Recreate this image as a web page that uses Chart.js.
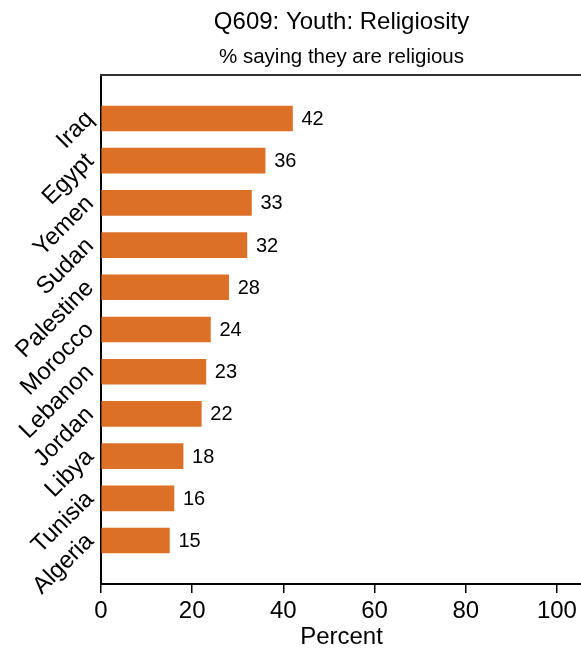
<!DOCTYPE html>
<html>
<head>
<meta charset="utf-8">
<script src="https://cdn.jsdelivr.net/npm/chart.js@4"></script>
<style>
  body { margin: 0; overflow: hidden; background: #fff; }
  #wrap { width: 581px; height: 651px; overflow: hidden; }
</style>
</head>
<body>
<div id="wrap">
  <!-- canvas is wider than the window so the right edge of the frame falls off, like the reference -->
  <canvas id="chart" width="682" height="651"></canvas>
</div>
<script>
// countries top to bottom
let countries = ['Iraq', 'Egypt', 'Yemen', 'Sudan', 'Palestine', 'Morocco',
                 'Lebanon', 'Jordan', 'Libya', 'Tunisia', 'Algeria'];
// % saying they are religious
let values = [42, 36, 33, 32, 28, 24, 23, 22, 18, 16, 15];
// x axis tick labels
let xTicks = [0, 20, 40, 60, 80, 100];

let barColor = '#DD7027';
let fontFamily = '"Liberation Sans", Arial, Helvetica, sans-serif';
Chart.defaults.font.family = fontFamily;
Chart.defaults.color = '#000';

// writes the value just right of each bar
let valueLabels = {
    id: 'valueLabels',
    afterDatasetsDraw: function(chart) {
        let ctx = chart.ctx;
        let meta = chart.getDatasetMeta(0);
        ctx.save();
        ctx.font = '20px ' + fontFamily;
        ctx.fillStyle = '#000';
        ctx.textAlign = 'left';
        ctx.textBaseline = 'middle';
        for (let i = 0; i < meta.data.length; i++) {
            let bar = meta.data[i];
            ctx.fillText(String(values[i]), bar.x + 9, bar.y + 1);
        }
        ctx.restore();
    }
};

// top side of the panel frame
let topFrame = {
    id: 'topFrame',
    afterDraw: function(chart) {
        let a = chart.chartArea;
        let ctx = chart.ctx;
        ctx.save();
        ctx.strokeStyle = '#333';
        ctx.lineWidth = 2;
        ctx.beginPath();
        ctx.moveTo(a.left - 1, a.top);
        ctx.lineTo(a.right + 1, a.top);
        ctx.stroke();
        ctx.restore();
    }
};

new Chart(document.getElementById('chart'), {
    type: 'bar',
    data: {
        datasets: [{
            data: values.map(function(v, i) { return { x: v, y: i }; }),
            backgroundColor: barColor,
            borderWidth: 0,
            barThickness: 25
        }]
    },
    options: {
        indexAxis: 'y',
        responsive: false,
        animation: false,
        layout: { padding: { left: 0, right: 100, top: 0, bottom: 0 } },
        plugins: {
            legend: { display: false },
            tooltip: { enabled: false },
            title: {
                display: true,
                fullSize: false,   // center over the panel, not the canvas
                text: 'Q609: Youth: Religiosity',
                font: { size: 24, weight: 'normal' },
                color: '#000',
                padding: { top: 8, bottom: 8 }
            },
            subtitle: {
                display: true,
                fullSize: false,
                text: '% saying they are religious',
                font: { size: 20.5, weight: 'normal' },
                color: '#000',
                padding: { top: 0, bottom: 5.6 }
            }
        },
        scales: {
            x: {
                type: 'linear',
                min: 0,
                max: 105.5,
                afterBuildTicks: function(scale) {
                    scale.ticks = xTicks.map(function(v) { return { value: v }; });
                },
                afterFit: function(scale) { scale.height = 67; },
                grid: { drawOnChartArea: false, color: '#000', lineWidth: 1.5, tickLength: 9 },
                border: { color: '#000', width: 2 },
                ticks: { font: { size: 24 }, color: '#000', padding: 4, maxRotation: 0 },
                title: {
                    display: true,
                    text: 'Percent',
                    font: { size: 24 },
                    color: '#000',
                    padding: { top: 0, bottom: -1 }
                }
            },
            y: {
                type: 'linear',
                reverse: true,
                offset: false,
                min: -1.03,
                max: 11.03,
                afterBuildTicks: function(scale) {
                    scale.ticks = countries.map(function(c, i) { return { value: i }; });
                },
                afterFit: function(scale) { scale.width = 101; },
                grid: { display: false },
                border: { color: '#000', width: 2 },
                ticks: {
                    font: { size: 24 },
                    color: '#000',
                    padding: 3,
                    minRotation: 45,
                    maxRotation: 45,
                    labelOffset: -3,
                    callback: function(v) { return countries[v]; }
                }
            }
        }
    },
    plugins: [valueLabels, topFrame]
});
</script>
</body>
</html>
